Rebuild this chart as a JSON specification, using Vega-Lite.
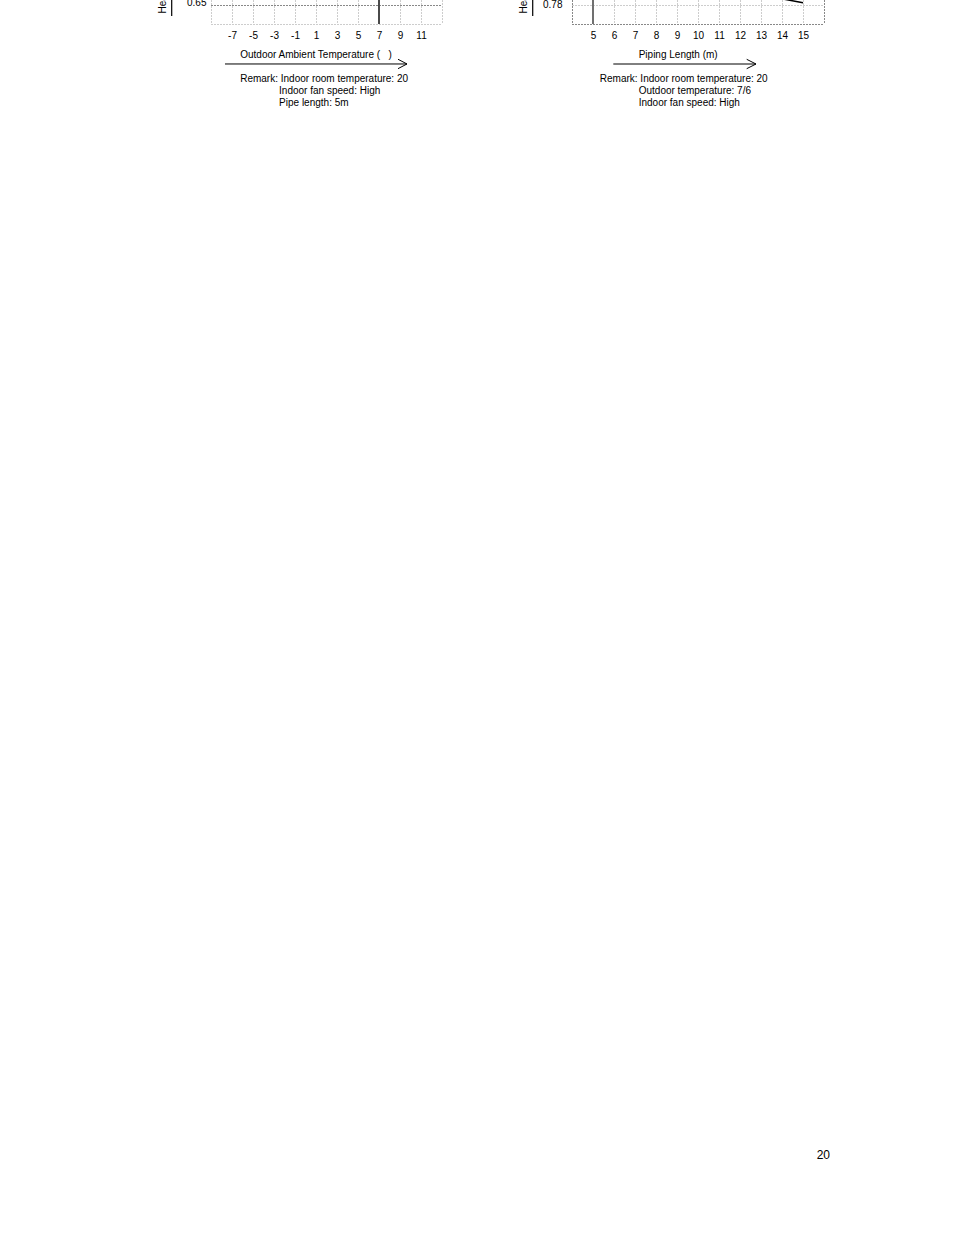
{
  "$schema": "https://vega.github.io/schema/vega-lite/v6.json",
  "background": "white",
  "padding": {"left": 157, "top": -61, "right": 0, "bottom": 0},
  "spacing": 76,
  "config": {
    "view": {"stroke": null},
    "font": "Liberation Sans",
    "axis": {
      "labelFont": "Liberation Sans",
      "labelFontSize": 10,
      "labelColor": "black",
      "titleFont": "Liberation Sans",
      "titleFontSize": 10,
      "titleFontWeight": "normal",
      "titleColor": "black",
      "domain": false,
      "ticks": false,
      "gridWidth": 1
    }
  },
  "datasets": {
    "leftShaftY": [{"x": -12.743, "y": 0.6211, "y2": 0.68}],
    "leftRated": [{"x": 7}],
    "leftShaftX": [{"x": -7.667, "x2": 9.667, "y": 0.49474}],
    "leftHead": [
      {"x": 8.81, "y": 0.5071, "o": 1},
      {"x": 9.667, "y": 0.49474, "o": 2},
      {"x": 8.81, "y": 0.48237, "o": 3}
    ],
    "rightShaftY": [{"x": 2.129, "y": 0.76842, "y2": 0.8}],
    "rightRated": [{"x": 5}],
    "rightCurve": [
      {"x": 11, "y": 0.805},
      {"x": 12, "y": 0.799},
      {"x": 13, "y": 0.793},
      {"x": 14, "y": 0.7865},
      {"x": 15, "y": 0.7824}
    ],
    "rightShaftX": [{"x": 5.967, "x2": 12.762, "y": 0.71789}],
    "rightHead": [
      {"x": 12.319, "y": 0.72284, "o": 1},
      {"x": 12.762, "y": 0.71789, "o": 2},
      {"x": 12.319, "y": 0.71295, "o": 3}
    ]
  },
  "hconcat": [
    {
      "width": 231,
      "height": 24,
      "layer": [
        {
          "data": {"name": "leftShaftY"},
          "mark": {"type": "rule", "color": "black", "strokeWidth": 1.2, "clip": false},
          "encoding": {
            "x": {
              "field": "x",
              "type": "quantitative",
              "scale": {"domain": [-9, 13], "nice": false, "zero": false},
              "axis": {
                "values": [-9, -7, -5, -3, -1, 1, 3, 5, 7, 9, 11, 13],
                "tickCount": 40,
                "labelExpr": "datum.value == -9 || datum.value == 13 ? '' : '' + datum.value",
                "labelOverlap": false,
                "labelBound": false,
                "labelPadding": 6,
                "gridColor": "#9a9a9a",
                "gridDash": [1, 2],
                "title": [
                  "Outdoor Ambient Temperature ( \u00a0 )",
                  "\u200b",
                  "Remark: Indoor room temperature: 20",
                  "\u200b\u00a0\u00a0\u00a0\u00a0\u00a0\u00a0\u00a0\u00a0\u00a0\u00a0\u00a0\u00a0\u00a0\u00a0Indoor fan speed: High",
                  "\u200b\u00a0\u00a0\u00a0\u00a0\u00a0\u00a0\u00a0\u00a0\u00a0\u00a0\u00a0\u00a0\u00a0\u00a0Pipe length: 5m"
                ],
                "titleAlign": "left",
                "titleAnchor": "start",
                "titleBaseline": "alphabetic",
                "titleLineHeight": 12,
                "titleX": 28.7,
                "titleY": 33
              }
            },
            "y": {
              "field": "y",
              "type": "quantitative",
              "scale": {"domain": [0.6, 0.6632], "nice": false, "zero": false},
              "axis": {
                "values": [0.6, 0.65],
                "tickCount": 10,
                "labelExpr": "datum.value < 0.62 ? '' : format(datum.value, '.2f')",
                "labelOverlap": false,
                "labelBaseline": "alphabetic",
                "labelPadding": 5,
                "gridColor": {"condition": {"test": "datum.value > 0.62", "value": "#111"}, "value": "#9a9a9a"},
                "gridDash": [1, 2],
                "title": "Heating capacity",
                "titleAngle": 270,
                "titleAlign": "left",
                "titleBaseline": "alphabetic",
                "titleX": -45.5,
                "titleY": 13
              }
            },
            "y2": {"field": "y2"}
          }
        },
        {
          "data": {"name": "leftRated"},
          "mark": {"type": "rule", "color": "#4a4a4a", "strokeWidth": 2},
          "encoding": {"x": {"field": "x", "type": "quantitative"}}
        },
        {
          "data": {"name": "leftShaftX"},
          "mark": {"type": "rule", "color": "black", "strokeWidth": 1, "clip": false},
          "encoding": {
            "x": {"field": "x", "type": "quantitative"},
            "x2": {"field": "x2"},
            "y": {"field": "y", "type": "quantitative"}
          }
        },
        {
          "data": {"name": "leftHead"},
          "mark": {"type": "line", "color": "black", "strokeWidth": 1, "clip": false},
          "encoding": {
            "x": {"field": "x", "type": "quantitative"},
            "y": {"field": "y", "type": "quantitative"},
            "order": {"field": "o"}
          }
        }
      ]
    },
    {
      "width": 252,
      "height": 24,
      "title": {
        "text": "20",
        "orient": "bottom",
        "anchor": "end",
        "offset": 1043,
        "dx": 6,
        "font": "Liberation Sans",
        "fontSize": 12,
        "fontWeight": "normal",
        "color": "black"
      },
      "layer": [
        {
          "data": {"name": "rightShaftY"},
          "mark": {"type": "rule", "color": "black", "strokeWidth": 1.2, "clip": false},
          "encoding": {
            "x": {
              "field": "x",
              "type": "quantitative",
              "scale": {"domain": [4, 16], "nice": false, "zero": false},
              "axis": {
                "values": [4, 5, 6, 7, 8, 9, 10, 11, 12, 13, 14, 15, 16],
                "tickCount": 40,
                "labelExpr": "datum.value == 4 || datum.value == 16 ? '' : '' + datum.value",
                "labelOverlap": false,
                "labelBound": false,
                "labelPadding": 6,
                "gridColor": {"condition": {"test": "datum.value == 4 || datum.value == 16", "value": "#111"}, "value": "#9a9a9a"},
                "gridDash": [1, 2],
                "title": [
                  "\u200b\u00a0\u00a0\u00a0\u00a0\u00a0\u00a0\u00a0\u00a0\u00a0\u00a0\u00a0\u00a0\u00a0\u00a0Piping Length (m)",
                  "\u200b",
                  "Remark: Indoor room temperature: 20",
                  "\u200b\u00a0\u00a0\u00a0\u00a0\u00a0\u00a0\u00a0\u00a0\u00a0\u00a0\u00a0\u00a0\u00a0\u00a0Outdoor temperature: 7/6",
                  "\u200b\u00a0\u00a0\u00a0\u00a0\u00a0\u00a0\u00a0\u00a0\u00a0\u00a0\u00a0\u00a0\u00a0\u00a0Indoor fan speed: High"
                ],
                "titleAlign": "left",
                "titleAnchor": "start",
                "titleBaseline": "alphabetic",
                "titleLineHeight": 12,
                "titleX": 27.3,
                "titleY": 33
              }
            },
            "y": {
              "field": "y",
              "type": "quantitative",
              "scale": {"domain": [0.76, 0.78526], "nice": false, "zero": false},
              "axis": {
                "values": [0.76, 0.78],
                "tickCount": 10,
                "labelExpr": "datum.value < 0.77 ? '' : format(datum.value, '.2f')",
                "labelOverlap": false,
                "labelBaseline": "middle",
                "labelPadding": 10,
                "gridColor": {"condition": {"test": "datum.value < 0.77", "value": "#111"}, "value": "#9a9a9a"},
                "gridDash": [1, 2],
                "title": "Heating capacity",
                "titleAngle": 270,
                "titleAlign": "left",
                "titleBaseline": "alphabetic",
                "titleX": -45.5,
                "titleY": 13
              }
            },
            "y2": {"field": "y2"}
          }
        },
        {
          "data": {"name": "rightRated"},
          "mark": {"type": "rule", "color": "#707070", "strokeWidth": 2},
          "encoding": {"x": {"field": "x", "type": "quantitative"}}
        },
        {
          "data": {"name": "rightCurve"},
          "mark": {"type": "line", "color": "black", "strokeWidth": 1.5, "clip": true},
          "encoding": {
            "x": {"field": "x", "type": "quantitative"},
            "y": {"field": "y", "type": "quantitative"}
          }
        },
        {
          "data": {"name": "rightShaftX"},
          "mark": {"type": "rule", "color": "black", "strokeWidth": 1, "clip": false},
          "encoding": {
            "x": {"field": "x", "type": "quantitative"},
            "x2": {"field": "x2"},
            "y": {"field": "y", "type": "quantitative"}
          }
        },
        {
          "data": {"name": "rightHead"},
          "mark": {"type": "line", "color": "black", "strokeWidth": 1, "clip": false},
          "encoding": {
            "x": {"field": "x", "type": "quantitative"},
            "y": {"field": "y", "type": "quantitative"},
            "order": {"field": "o"}
          }
        }
      ]
    }
  ]
}
